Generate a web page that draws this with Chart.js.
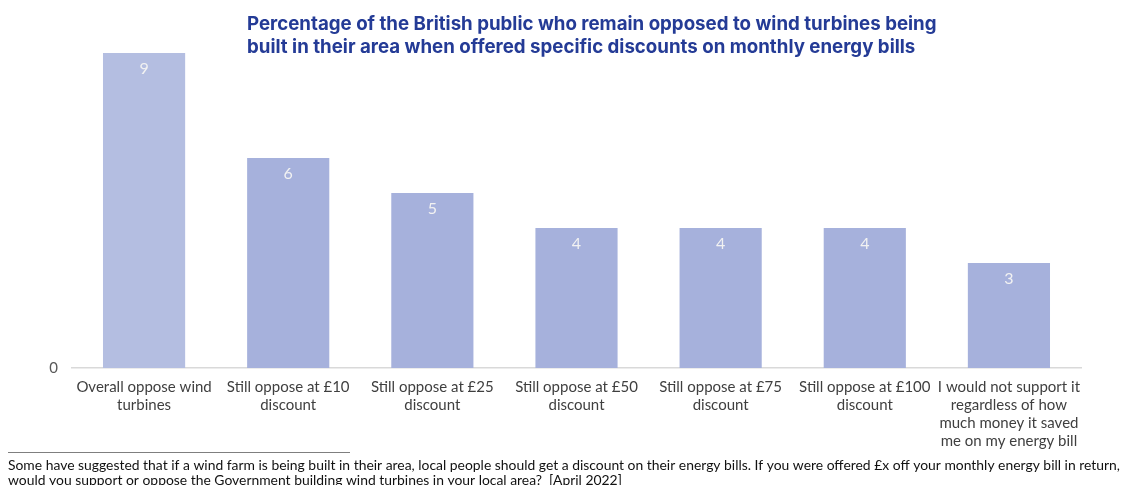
<!DOCTYPE html>
<html>
<head>
<meta charset="utf-8">
<script src="https://cdn.jsdelivr.net/npm/chart.js@4"></script>
<style>
  html, body { margin: 0; padding: 0; background: #ffffff; }
  #wrap { position: relative; width: 1126px; height: 485px; }
</style>
</head>
<body>
<div id="wrap"><canvas id="windChart"></canvas></div>
<script>
// Categorias (cada una en varias lineas, como en el original)
const categories = [
    ['Overall oppose wind', 'turbines'],
    ['Still oppose at £10', 'discount'],
    ['Still oppose at £25', 'discount'],
    ['Still oppose at £50', 'discount'],
    ['Still oppose at £75', 'discount'],
    ['Still oppose at £100', 'discount'],
    ['I would not support it', 'regardless of how', 'much money it saved', 'me on my energy bill']
];
const opposedPct = [9, 6, 5, 4, 4, 4, 3];
const barColors = ['#b4bee1', '#a6b1dc', '#a6b1dc', '#a6b1dc', '#a6b1dc', '#a6b1dc', '#a6b1dc'];
const yTickLabels = ['0'];

const titleLines = [
    'Percentage of the British public who remain opposed to wind turbines being',
    'built in their area when offered specific discounts on monthly energy bills'
];
const footnoteLines = [
    'Some have suggested that if a wind farm is being built in their area, local people should get a discount on their energy bills. If you were offered £x off your monthly energy bill in return,',
    'would you support or oppose the Government building wind turbines in your local area?  [April 2022]'
];

const FONT = 'Lato, "Open Sans", sans-serif';

// Etiquetas de valor dentro de las barras + titulo + nota al pie
const extrasPlugin = {
    id: 'extras',
    afterDraw(chart) {
        const ctx = chart.ctx;
        const meta = chart.getDatasetMeta(0);
        ctx.save();

        // valores
        ctx.fillStyle = '#f2f2f2';
        ctx.font = '16px ' + FONT;
        ctx.textAlign = 'center';
        ctx.textBaseline = 'middle';
        meta.data.forEach((bar, i) => {
            ctx.fillText(String(opposedPct[i]), bar.x, bar.y + 16);
        });

        // titulo
        ctx.fillStyle = '#243b96';
        ctx.font = 'bold 18.7px Inter, sans-serif';
        ctx.textAlign = 'left';
        titleLines.forEach((t, i) => ctx.fillText(t, 247, 24 + i * 23));

        // linea separadora y nota al pie
        ctx.strokeStyle = '#7f7f7f';
        ctx.lineWidth = 1;
        ctx.beginPath();
        ctx.moveTo(8, 452.5);
        ctx.lineTo(350, 452.5);
        ctx.stroke();

        ctx.fillStyle = '#111111';
        ctx.font = '13.9px ' + FONT;
        footnoteLines.forEach((t, i) => ctx.fillText(t, 8, 466 + i * 15));

        ctx.restore();
    }
};

new Chart(document.getElementById('windChart'), {
    type: 'bar',
    data: {
        labels: categories,
        datasets: [{
            data: opposedPct,
            backgroundColor: barColors,
            borderWidth: 0,
            barPercentage: 0.57,
            categoryPercentage: 1.0
        }]
    },
    options: {
        responsive: true,
        maintainAspectRatio: false,
        animation: false,
        layout: { padding: { top: 18, right: 45, left: 0, bottom: 0 } },
        plugins: {
            legend: { display: false },
            tooltip: { enabled: false }
        },
        scales: {
            x: {
                grid: { display: false, drawTicks: false },
                border: { display: true, color: '#d9d9d9', width: 1.5 },
                ticks: {
                    color: '#3f3f3f',
                    font: { family: FONT, size: 15 },
                    padding: 10,
                    maxRotation: 0,
                    autoSkip: false
                },
                afterFit(scale) { scale.height = 117; }
            },
            y: {
                min: 0,
                max: 10,
                grid: { display: false, drawTicks: false },
                border: { display: false },
                ticks: {
                    stepSize: 10,
                    color: '#595959',
                    font: { family: FONT, size: 15 },
                    padding: 14,
                    callback: (v) => (v === 0 ? yTickLabels[0] : '')
                },
                afterFit(scale) {
                    scale.width = 72;
                    scale.paddingTop = 0;
                    scale.paddingBottom = 0;
                }
            }
        }
    },
    plugins: [extrasPlugin]
});
</script>
</body>
</html>
